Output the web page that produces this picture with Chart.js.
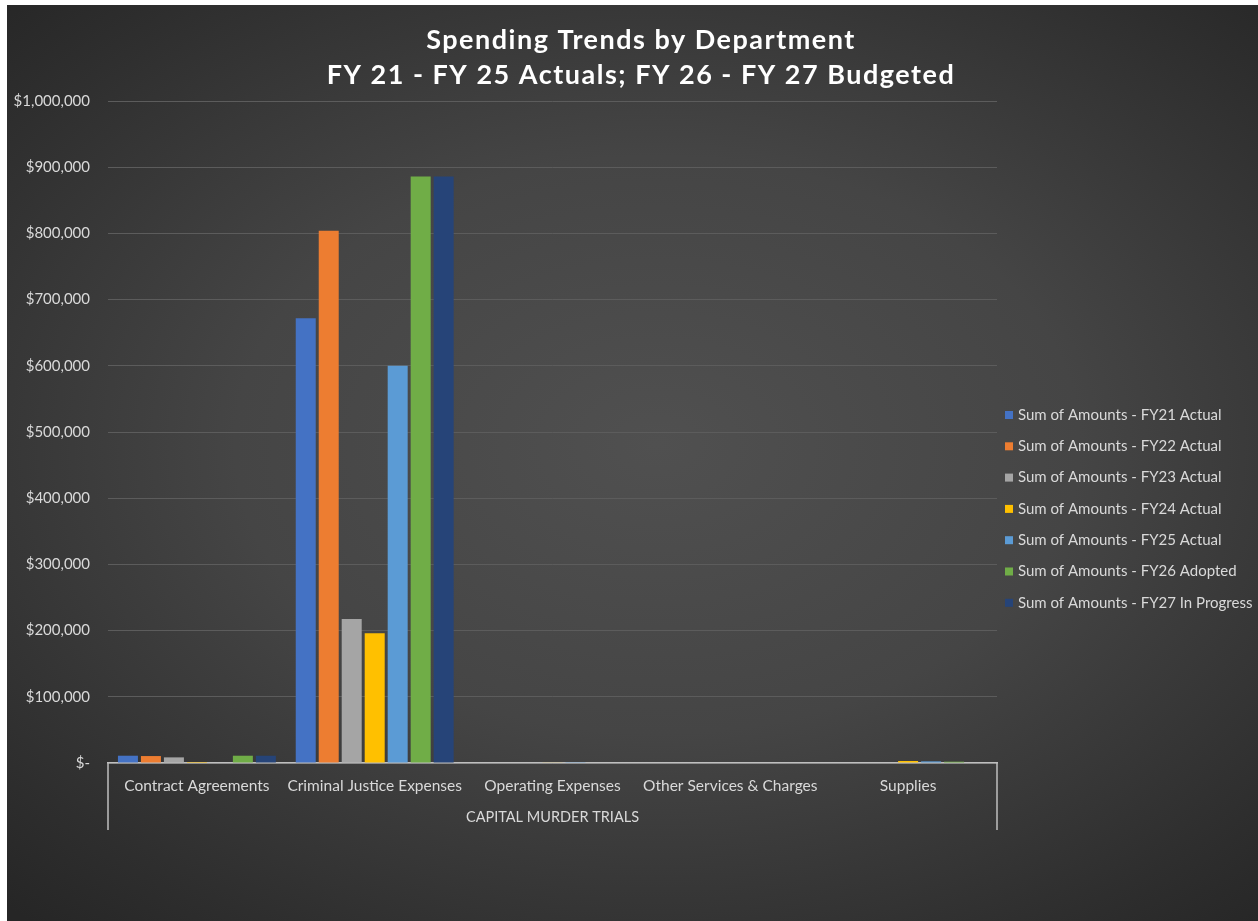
<!DOCTYPE html>
<html>
<head>
<meta charset="utf-8">
<script src="https://cdn.jsdelivr.net/npm/chart.js@4.4.1/dist/chart.umd.min.js"></script>
<style>
  html, body { margin: 0; padding: 0; background: #ffffff; }
  #panel {
    position: absolute; left: 7px; top: 5px; width: 1251px; height: 916px;
    background: radial-gradient(ellipse 75% 70% at 52% 48%, #505050 0%, #454545 45%, #2e2e2e 85%, #262626 100%);
  }
  canvas { display: block; }
</style>
</head>
<body>
<div id="panel"><canvas id="c" width="1251" height="916"></canvas></div>
<script>
const categories = ['Contract Agreements', 'Criminal Justice Expenses', 'Operating Expenses', 'Other Services & Charges', 'Supplies'];
const groupLabel = 'CAPITAL MURDER TRIALS';
const seriesLabels = [
  'Sum of Amounts - FY21 Actual',
  'Sum of Amounts - FY22 Actual',
  'Sum of Amounts - FY23 Actual',
  'Sum of Amounts - FY24 Actual',
  'Sum of Amounts - FY25 Actual',
  'Sum of Amounts - FY26 Adopted',
  'Sum of Amounts - FY27 In Progress'
];
const fy21 = [11000, 672000, 0, 0, 0];
const fy22 = [10500, 804000, 0, 0, 0];
const fy23 = [8500, 217500, 0, 0, 0];
const fy24 = [1500, 196000, 600, 0, 3000];
const fy25 = [0, 600000, 300, 0, 2500];
const fy26 = [11000, 886000, 0, 0, 2000];
const fy27 = [11000, 886000, 0, 0, 0];
const seriesColors = ['#4472C4', '#ED7D31', '#A5A5A5', '#FFC000', '#5B9BD5', '#70AD47', '#264478'];
const titleLines = ['Spending Trends by Department', 'FY 21 - FY 25 Actuals; FY 26 - FY 27 Budgeted'];
const yMax = 1000000;
const yStep = 100000;

const allSeries = [fy21, fy22, fy23, fy24, fy25, fy26, fy27];
const datasets = allSeries.map((d, i) => ({
  label: seriesLabels[i],
  data: d,
  backgroundColor: seriesColors[i],
  borderWidth: 0,
  categoryPercentage: 0.905,
  barPercentage: 0.87
}));

const FONT = 'Lato, "Open Sans", sans-serif';
const TXT = '#d9d9d9';

const decor = {
  id: 'decor',
  afterDraw(chart) {
    const ctx = chart.ctx;
    const a = chart.chartArea;
    ctx.save();
    // group box side lines
    ctx.strokeStyle = '#bfbfbf';
    ctx.lineWidth = 1.5;
    ctx.beginPath();
    ctx.moveTo(a.left, a.bottom); ctx.lineTo(a.left, a.bottom + 67);
    ctx.moveTo(a.right, a.bottom); ctx.lineTo(a.right, a.bottom + 67);
    ctx.stroke();
    // title
    ctx.fillStyle = '#ffffff';
    ctx.font = 'bold 27px ' + FONT;
    ctx.textAlign = 'center';
    ctx.textBaseline = 'middle';
    if ('letterSpacing' in ctx) ctx.letterSpacing = '1.5px';
    ctx.fillText(titleLines[0], 634, 35);
    ctx.fillText(titleLines[1], 634, 70);
    if ('letterSpacing' in ctx) ctx.letterSpacing = '0px';
    // legend
    ctx.font = '15px ' + FONT;
    ctx.textBaseline = 'middle';
    ctx.textAlign = 'left';
    chart.data.datasets.forEach((ds, i) => {
      const y = 410 + i * 31.3;
      ctx.fillStyle = ds.backgroundColor;
      ctx.fillRect(998, y - 4, 8, 8);
      ctx.fillStyle = TXT;
      ctx.fillText(ds.label, 1011, y);
    });
    ctx.restore();
  }
};

new Chart(document.getElementById('c'), {
  type: 'bar',
  data: { labels: categories, datasets },
  options: {
    responsive: false,
    animation: false,
    layout: { padding: { left: 0, right: 261, top: 96, bottom: 91 } },
    plugins: {
      legend: { display: false },
      tooltip: { enabled: false },
      title: { display: false }
    },
    scales: {
      x: {
        grid: { display: false, drawTicks: false },
        border: { display: true, color: '#bfbfbf', width: 1.5 },
        ticks: { color: TXT, font: { family: FONT, size: 15.5 }, padding: 14, maxRotation: 0, autoSkip: false },
        title: { display: true, text: groupLabel, color: TXT, font: { family: FONT, size: 14.5 }, padding: { top: 0, bottom: 4 } },
        afterFit(scale) { scale.height = 67; }
      },
      y: {
        min: 0, max: yMax,
        grid: { color: '#5c5c5c', lineWidth: 1, drawTicks: false },
        border: { display: false },
        ticks: {
          stepSize: yStep,
          color: TXT,
          font: { family: FONT, size: 15 },
          padding: 18,
          callback: (v) => v === 0 ? '$-' : '$' + Number(v).toLocaleString('en-US')
        },
        afterFit(scale) { scale.width = 101; }
      }
    }
  },
  plugins: [decor]
});
</script>
</body>
</html>
